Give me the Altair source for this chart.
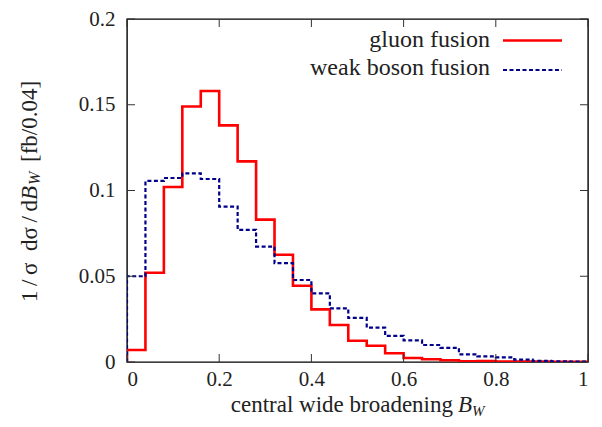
import altair as alt
import pandas as pd

# ---- data ----
bin_edges = [0.00, 0.04, 0.08, 0.12, 0.16, 0.20, 0.24, 0.28, 0.32, 0.36,
             0.40, 0.44, 0.48, 0.52, 0.56, 0.60, 0.64, 0.68, 0.72, 0.76,
             0.80, 0.84, 0.88, 0.92, 0.96, 1.00]
gluon = [0.007, 0.052, 0.102, 0.149, 0.158, 0.138, 0.117, 0.083, 0.0625, 0.0445,
         0.0307, 0.0216, 0.0124, 0.0095, 0.0051, 0.0023, 0.0016, 0.0010, 0.0004, 0.0006,
         0.0003, 0.0002, 0.0002, 0.0001, 0.0001]
wbf = [0.050, 0.1056, 0.1073, 0.110, 0.1067, 0.0906, 0.077, 0.0673, 0.0576, 0.0478,
       0.040, 0.0313, 0.0257, 0.020, 0.0152, 0.0126, 0.0099, 0.0082, 0.0045, 0.0033,
       0.0027, 0.0014, 0.0007, 0.0004, 0.0002]
x_ticks = [0, 0.2, 0.4, 0.6, 0.8, 1.0]
y_ticks = [0, 0.05, 0.1, 0.15, 0.2]
series_names = ["gluon fusion", "weak boson fusion"]

W, H = 461, 343
FONT = "Liberation Serif, Times New Roman, DejaVu Serif, serif"
TXT = "#222222"
RED = "#ff0000"
BLUE = "#00008a"


def step_df(vals):
    xs = [bin_edges[0]] + bin_edges[:-1] + [bin_edges[-1]]
    ys = [0.0] + vals + [vals[-1]]
    return pd.DataFrame({"x": xs, "y": ys, "i": list(range(len(xs)))})


xscale = alt.Scale(domain=[0, 1], nice=False, zero=False)
yscale = alt.Scale(domain=[0, 0.2], nice=False)

x_axis = alt.Axis(values=x_ticks, format="~g", ticks=False, domain=False, grid=False,
                  labelFont=FONT, labelFontSize=21, labelColor=TXT, labelPadding=6,
                  title=None)
y_axis = alt.Axis(values=y_ticks, format="~g", ticks=False, domain=False, grid=False,
                  labelFont=FONT, labelFontSize=21, labelColor=TXT, labelPadding=12,
                  title=None)

red_line = alt.Chart(step_df(gluon)).mark_line(
    interpolate="step-after", color=RED, strokeWidth=2.6, clip=True
).encode(
    x=alt.X("x:Q", scale=xscale, axis=x_axis),
    y=alt.Y("y:Q", scale=yscale, axis=y_axis),
    order="i:Q",
)

blue_line = alt.Chart(step_df(wbf)).mark_line(
    interpolate="step-after", color=BLUE, strokeWidth=2.2, strokeDash=[4, 2.5], clip=True
).encode(
    x=alt.X("x:Q", scale=xscale),
    y=alt.Y("y:Q", scale=yscale),
    order="i:Q",
)

# inward ticks on all four sides
xt = pd.DataFrame({"t": x_ticks})
yt = pd.DataFrame({"t": y_ticks})
TL = 8
tick_style = dict(color="#333333", strokeWidth=1)
xb = alt.Chart(xt).mark_rule(**tick_style).encode(
    x=alt.X("t:Q", scale=xscale), y=alt.value(H), y2=alt.value(H - TL))
xtop = alt.Chart(xt).mark_rule(**tick_style).encode(
    x=alt.X("t:Q", scale=xscale), y=alt.value(0), y2=alt.value(TL))
yl = alt.Chart(yt).mark_rule(**tick_style).encode(
    y=alt.Y("t:Q", scale=yscale), x=alt.value(0), x2=alt.value(TL))
yr = alt.Chart(yt).mark_rule(**tick_style).encode(
    y=alt.Y("t:Q", scale=yscale), x=alt.value(W - TL), x2=alt.value(W))


def txt(s, x, y, size, align="left", style="normal", baseline="alphabetic", angle=0):
    kw = dict(align=align, baseline=baseline, font=FONT, fontSize=size, color=TXT,
              fontStyle=style)
    if angle:
        kw["angle"] = angle
    return alt.Chart(pd.DataFrame({"s": [s]})).mark_text(**kw).encode(
        text="s:N", x=alt.value(x), y=alt.value(y))


# legend
leg1 = txt(series_names[0], 363, 28, 24, align="right")
leg2 = txt(series_names[1], 363, 56, 24, align="right")
leg_r = alt.Chart(pd.DataFrame({"a": [0]})).mark_rule(color=RED, strokeWidth=2.6).encode(
    x=alt.value(376), x2=alt.value(435), y=alt.value(21.5))
leg_b = alt.Chart(pd.DataFrame({"a": [0]})).mark_rule(
    color=BLUE, strokeWidth=2.2, strokeDash=[4, 2.5]).encode(
    x=alt.value(376), x2=alt.value(435), y=alt.value(51))

# x title pieces
xt1 = txt("central wide broadening", 326, 393, 23, align="right")
xt2 = txt("B", 331, 393, 23, style="italic")
xt3 = txt("W", 345, 396.5, 15, style="italic")

# y title pieces (rotated)
yc = -97
yt1 = txt("1\u2009/\u2009σ\u2002dσ\u2009/\u2009d", yc, 181, 23, align="right",
          baseline="middle", angle=270)
yt2 = txt("B", yc, 181, 23, align="left", style="italic", baseline="middle", angle=270)
yt3 = txt("W", yc + 5, 166, 16, align="left", style="italic", baseline="middle", angle=270)
yt4 = txt("[fb/0.04]", yc, 143, 23, align="left", baseline="middle", angle=270)

chart = alt.layer(
    red_line, blue_line, xb, xtop, yl, yr,
    leg1, leg2, leg_r, leg_b,
    xt1, xt2, xt3, yt1, yt2, yt3, yt4,
).properties(
    width=W, height=H,
    autosize=alt.AutoSizeParams(type="none"),
    padding={"left": 119, "top": 11, "right": 6, "bottom": 57},
    background="white",
).configure_view(stroke="black", strokeWidth=1.4)

chart.save("out.html", embed_options={"renderer": "svg", "actions": False})
